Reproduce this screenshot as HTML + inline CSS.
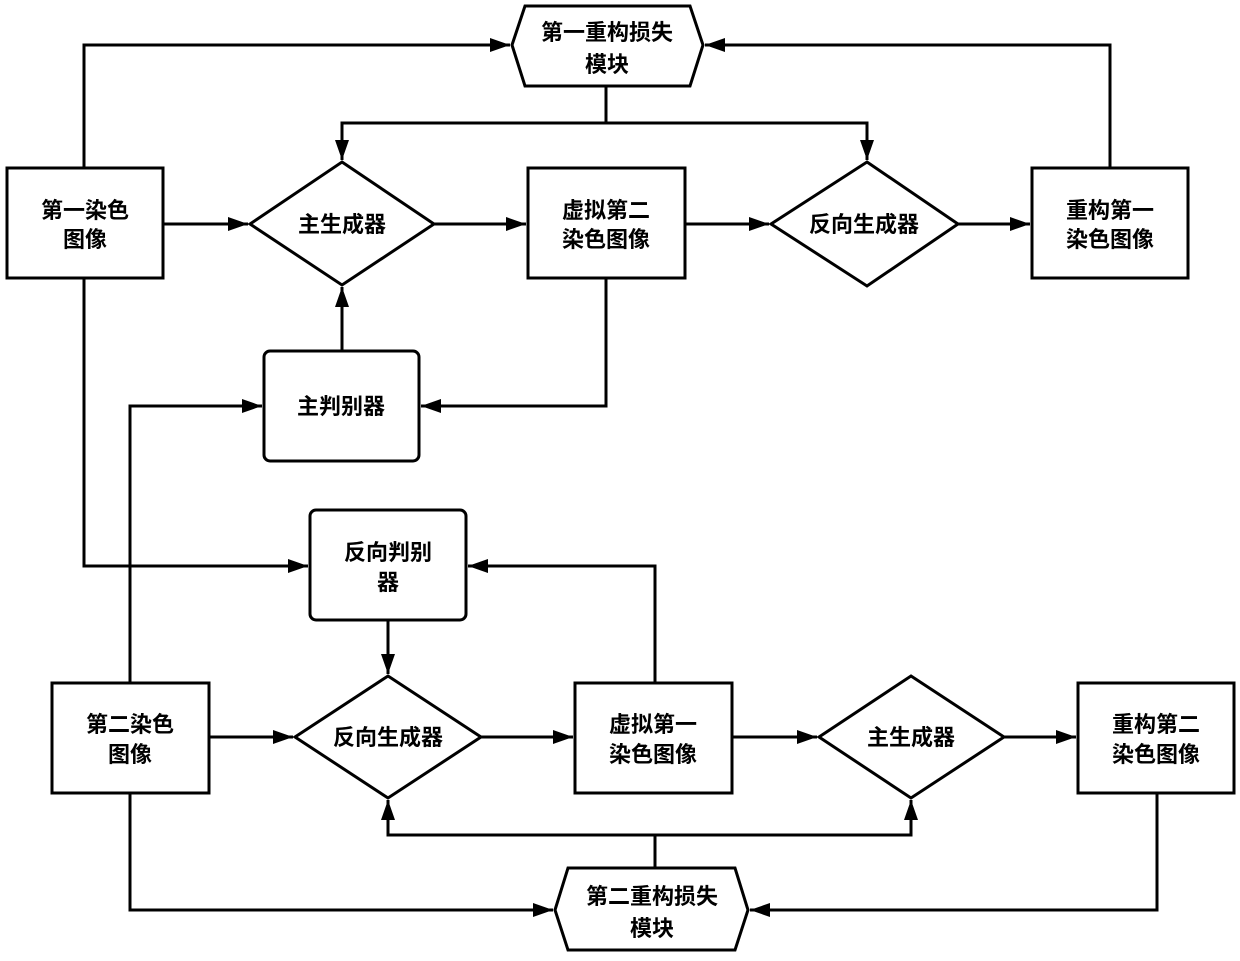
<!DOCTYPE html>
<html><head><meta charset="utf-8"><style>
html,body{margin:0;padding:0;background:#fff}
svg text{font-family:"Liberation Sans","Noto Sans CJK SC",sans-serif;font-size:22px;font-weight:bold;fill:#000;text-anchor:middle}
</style></head><body>
<svg width="1240" height="956" viewBox="0 0 1240 956" xmlns="http://www.w3.org/2000/svg">
<defs><marker id="a" viewBox="0 0 10 10" refX="10" refY="5" markerWidth="7" markerHeight="7" markerUnits="userSpaceOnUse" orient="auto"><path d="M0,0 L10,5 L0,10z" fill="#000"/></marker></defs>
<defs><marker id="b" viewBox="0 0 20 14" refX="20" refY="7" markerWidth="20" markerHeight="14" markerUnits="userSpaceOnUse" orient="auto"><path d="M0,0 L20,7 L0,14z" fill="#000"/></marker></defs>
<g fill="none" stroke="#000" stroke-width="3">
<!-- shapes -->
<rect x="7" y="168" width="156" height="110"/>
<rect x="528" y="168" width="157" height="110"/>
<rect x="1032" y="168" width="156" height="110"/>
<rect x="264" y="351" width="155" height="110" rx="6"/>
<rect x="310" y="510" width="156" height="110" rx="6"/>
<rect x="52" y="683" width="157" height="110"/>
<rect x="575" y="683" width="157" height="110"/>
<rect x="1078" y="683" width="156" height="110"/>
<polygon points="342,162 434,224 342,285 250,224"/>
<polygon points="867,162 958,224 867,286 771,224"/>
<polygon points="388,676 481,737 388,798 295,737"/>
<polygon points="911,676 1004,737 911,798 819,737"/>
<polygon points="512,45 525,6 690,6 703,45 690,86 525,86"/>
<polygon points="555,910 568,868 735,868 748,910 735,950 568,950"/>
<!-- connectors -->
<path d="M84,168 V45 H510" marker-end="url(#b)"/>
<path d="M1110,168 V45 H705" marker-end="url(#b)"/>
<path d="M606,86 V123"/>
<path d="M606,123 H342 V160" marker-end="url(#b)"/>
<path d="M606,123 H867 V160" marker-end="url(#b)"/>
<path d="M163,224 H248" marker-end="url(#b)"/>
<path d="M434,224 H526" marker-end="url(#b)"/>
<path d="M685,224 H769" marker-end="url(#b)"/>
<path d="M958,224 H1030" marker-end="url(#b)"/>
<path d="M342,351 V287" marker-end="url(#b)"/>
<path d="M606,278 V406 H421" marker-end="url(#b)"/>
<path d="M130,683 V406 H262" marker-end="url(#b)"/>
<path d="M84,278 V566 H308" marker-end="url(#b)"/>
<path d="M655,683 V566 H468" marker-end="url(#b)"/>
<path d="M388,620 V674" marker-end="url(#b)"/>
<path d="M209,737 H293" marker-end="url(#b)"/>
<path d="M481,737 H573" marker-end="url(#b)"/>
<path d="M732,737 H817" marker-end="url(#b)"/>
<path d="M1004,737 H1076" marker-end="url(#b)"/>
<path d="M655,868 V835"/>
<path d="M655,835 H388 V800" marker-end="url(#b)"/>
<path d="M655,835 H911 V800" marker-end="url(#b)"/>
<path d="M130,793 V910 H553" marker-end="url(#b)"/>
<path d="M1157,793 V910 H750" marker-end="url(#b)"/>
</g>
<text x="607" y="40">第一重构损失</text><text x="607" y="72">模块</text>
<text x="85" y="218">第一染色</text><text x="85" y="247">图像</text>
<text x="342" y="232">主生成器</text>
<text x="606" y="218">虚拟第二</text><text x="606" y="247">染色图像</text>
<text x="864" y="232">反向生成器</text>
<text x="1110" y="218">重构第一</text><text x="1110" y="247">染色图像</text>
<text x="341" y="414">主判别器</text>
<text x="388" y="560">反向判别</text><text x="388" y="590">器</text>
<text x="130" y="732">第二染色</text><text x="130" y="762">图像</text>
<text x="388" y="745">反向生成器</text>
<text x="653" y="732">虚拟第一</text><text x="653" y="762">染色图像</text>
<text x="911" y="745">主生成器</text>
<text x="1156" y="732">重构第二</text><text x="1156" y="762">染色图像</text>
<text x="652" y="904">第二重构损失</text><text x="652" y="936">模块</text>
</svg>
</body></html>
